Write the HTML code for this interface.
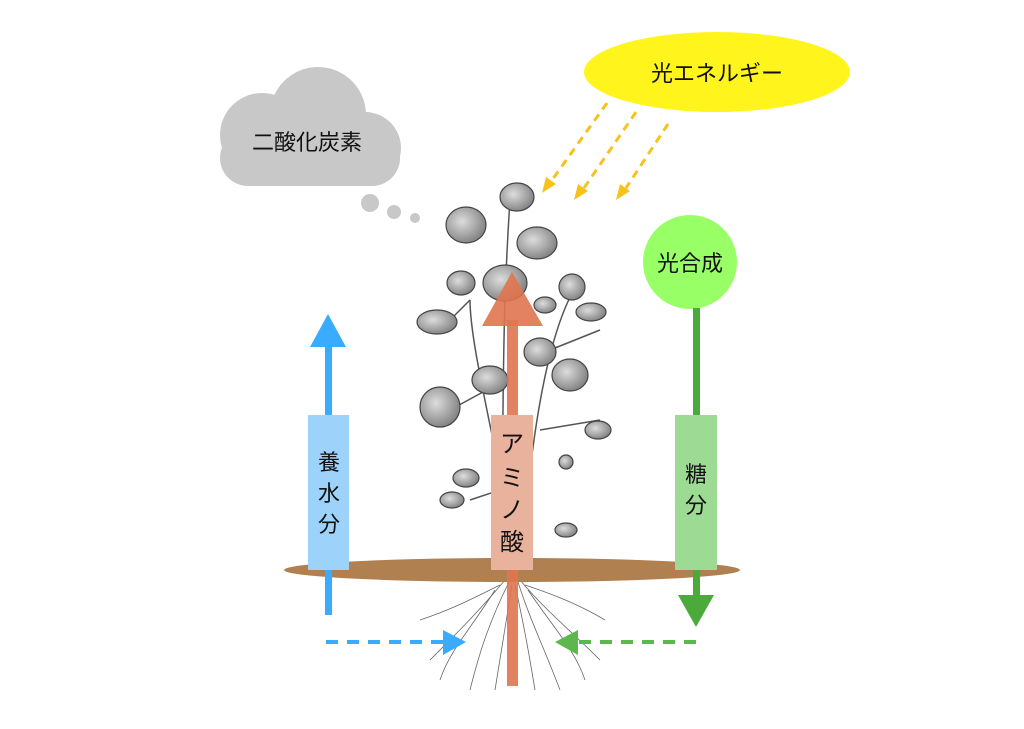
<!DOCTYPE html>
<html><head><meta charset="utf-8"><style>
body{margin:0;background:#fff;width:1024px;height:724px;overflow:hidden}
svg text{font-family:"Liberation Sans","Noto Sans CJK JP",sans-serif}
</style></head><body>
<svg width="1024" height="724" viewBox="0 0 1024 724" xmlns="http://www.w3.org/2000/svg">
<defs>
<radialGradient id="lf" cx="40%" cy="40%" r="70%"><stop offset="0" stop-color="#ddd"/><stop offset="1" stop-color="#777"/></radialGradient>
</defs>
<!-- cloud -->
<g fill="#c8c8c8">
<circle cx="318" cy="115" r="48"/>
<circle cx="262" cy="135" r="42"/>
<circle cx="365" cy="148" r="36"/>
<rect x="220" y="130" width="180" height="56" rx="28"/>
<circle cx="370" cy="203" r="9"/><circle cx="394" cy="212" r="7"/><circle cx="415" cy="218" r="5"/>
</g>
<text x="307" y="150" font-size="22" text-anchor="middle" fill="#111">二酸化炭素</text>
<!-- sun -->
<ellipse cx="717" cy="72" rx="133" ry="40" fill="#fff41c"/>
<text x="717" y="81" font-size="22" text-anchor="middle" fill="#111">光エネルギー</text>
<g stroke="#f7c21c" stroke-width="3" stroke-dasharray="8,6" fill="none">
<line x1="607" y1="103" x2="552" y2="180"/><line x1="636" y1="112" x2="584" y2="188"/><line x1="668" y1="124" x2="626" y2="188"/>
</g>
<g fill="#f7c21c"><polygon points="542,193 546,177 556,184"/><polygon points="574,200 578,184 588,191"/><polygon points="616,200 620,184 630,191"/></g>
<!-- plant -->
<g stroke="#555" stroke-width="1.5" fill="none">
<path d="M500 570 C505 450 500 350 510 200"/><path d="M520 570 C530 450 545 330 580 280"/><path d="M505 500 C490 420 470 340 470 300"/>
<path d="M470 300 L450 320"/><path d="M505 380 L450 410"/><path d="M540 430 L600 420"/><path d="M530 480 L470 500"/><path d="M550 350 L600 330"/>
</g>
<g fill="url(#lf)" stroke="#444" stroke-width="1.2">
<ellipse cx="517" cy="197" rx="17" ry="14"/><ellipse cx="466" cy="225" rx="20" ry="18"/><ellipse cx="537" cy="243" rx="20" ry="16"/>
<ellipse cx="505" cy="283" rx="22" ry="18"/><ellipse cx="461" cy="283" rx="14" ry="12"/><ellipse cx="572" cy="287" rx="13" ry="13"/>
<ellipse cx="437" cy="322" rx="20" ry="12"/><ellipse cx="591" cy="312" rx="15" ry="9"/><ellipse cx="545" cy="305" rx="11" ry="8"/>
<ellipse cx="540" cy="352" rx="16" ry="14"/><ellipse cx="570" cy="375" rx="18" ry="16"/><ellipse cx="490" cy="380" rx="18" ry="14"/>
<ellipse cx="440" cy="407" rx="20" ry="20"/><ellipse cx="598" cy="430" rx="13" ry="9"/><ellipse cx="466" cy="478" rx="13" ry="9"/>
<ellipse cx="452" cy="500" rx="12" ry="8"/><ellipse cx="566" cy="462" rx="7" ry="7"/><ellipse cx="566" cy="530" rx="11" ry="7"/>
</g>
<!-- roots -->
<g stroke="#666" stroke-width="0.8" fill="none">
<path d="M505 580 C480 610 460 630 430 660"/><path d="M510 580 C490 620 480 650 470 690"/><path d="M520 580 C545 610 570 630 600 660"/>
<path d="M518 582 C530 620 545 650 560 690"/><path d="M500 585 C470 600 450 610 420 620"/><path d="M525 585 C555 595 580 605 605 620"/>
<path d="M512 585 C505 630 500 660 495 690"/><path d="M515 585 C525 630 530 660 535 690"/>
<path d="M495 590 C470 630 450 650 440 680"/><path d="M528 590 C555 630 575 650 585 680"/>
</g>
<!-- soil -->
<ellipse cx="512" cy="570" rx="228" ry="12" fill="#b08050"/>
<!-- blue -->
<rect x="325" y="345" width="7" height="270" fill="#3aacff"/>
<polygon points="310,347 346,347 328,314" fill="#3aacff"/>
<rect x="308" y="415" width="41" height="155" fill="#9dd3fb"/>
<text font-size="22" text-anchor="middle" fill="#111"><tspan x="329" y="470">養</tspan><tspan x="329" y="501">水</tspan><tspan x="329" y="532">分</tspan></text>
<line x1="326" y1="642" x2="445" y2="642" stroke="#3aacff" stroke-width="4" stroke-dasharray="12,9"/>
<polygon points="443,630 443,655 466,642" fill="#3aacff"/>
<!-- green -->
<circle cx="690" cy="262" r="47" fill="#99ff66"/>
<text x="690" y="271" font-size="22" text-anchor="middle" fill="#111">光合成</text>
<rect x="693" y="308" width="7" height="290" fill="#4aaa3c"/>
<polygon points="678,595 714,595 696,627" fill="#4aaa3c"/>
<rect x="675" y="415" width="42" height="155" fill="#9dda93"/>
<text font-size="22" text-anchor="middle" fill="#111"><tspan x="696" y="482">糖</tspan><tspan x="696" y="513">分</tspan></text>
<line x1="696" y1="642" x2="578" y2="642" stroke="#5cb84c" stroke-width="4" stroke-dasharray="12,9"/>
<polygon points="578,630 578,655 555,642" fill="#5cb84c"/>
<!-- orange -->
<rect x="507" y="320" width="11" height="366" fill="#e0744f" opacity="0.9"/>
<polygon points="482,326 543,326 512,272" fill="#e0744f" opacity="0.9"/>
<rect x="491" y="415" width="42" height="155" fill="#e9b29c"/>
<text font-size="24" text-anchor="middle" fill="#111"><tspan x="512" y="452">ア</tspan><tspan x="512" y="486">ミ</tspan><tspan x="512" y="518">ノ</tspan><tspan x="512" y="550">酸</tspan></text>
</svg>
</body></html>
